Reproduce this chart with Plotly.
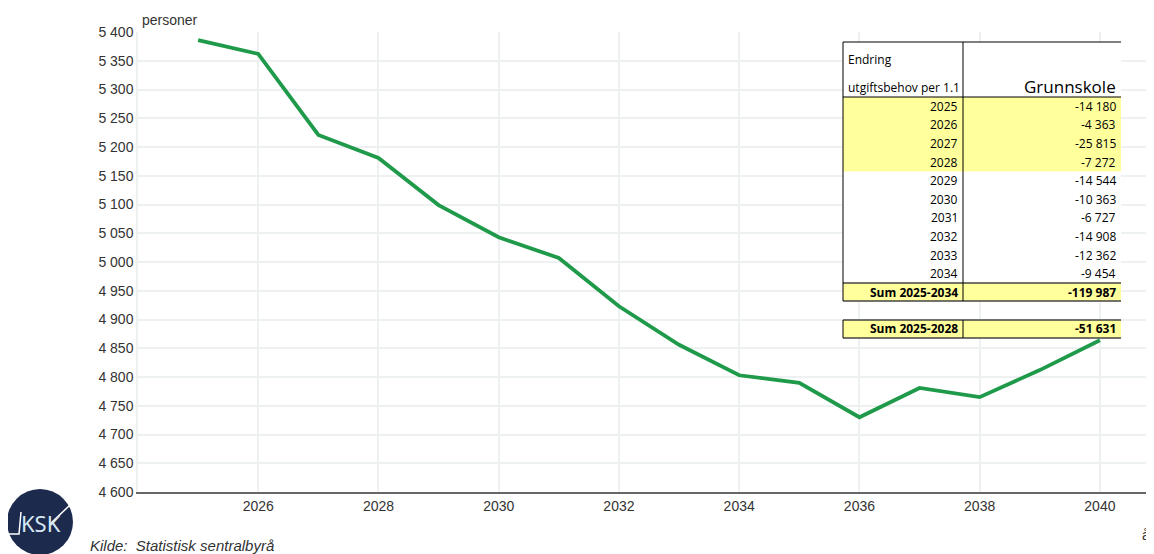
import plotly.graph_objects as go

# ---- Data -------------------------------------------------------------------

years = list(range(2025, 2041))
personer = [5386, 5362, 5221, 5181, 5099, 5043, 5007, 4923, 4856, 4803,
            4790, 4730, 4781, 4765, 4812, 4864]

x_ticks = [2026, 2028, 2030, 2032, 2034, 2036, 2038, 2040]

table_years = list(range(2025, 2035))
table_values = [-14180, -4363, -25815, -7272, -14544, -10363, -6727,
                -14908, -12362, -9454]
highlight_years = [2025, 2026, 2027, 2028]
sum_labels = ["Sum 2025-2034", "Sum 2025-2028"]
sum_values = [-119987, -51631]

# page body has an 8px margin, so the figure is drawn 8px smaller/shifted
OFF = 8
W, H = 1154 - OFF, 554 - OFF
L, R, T, B = 138, 1154, 32, 492   # plot area in screen pixels

YELLOW = "#ffff9c"
GREEN = "#1f9a4a"
GRID = "#edf1f1"
TXT = "#333333"
FONT = "Liberation Sans"
TFONT = "Open Sans"


def px(x):
    return (x - L) / (R - L)


def py(y):
    return (B - y) / (B - T)


def fmt(v):
    return f"{v:,}".replace(",", " ")


fig = go.Figure()
fig.add_trace(go.Scatter(
    x=years, y=personer, mode="lines",
    line=dict(color=GREEN, width=3.8),
    showlegend=False, hoverinfo="skip",
))

shapes = []
annots = []


def hline(y, x0, x1, color="#000", w=1):
    shapes.append(dict(type="line", xref="paper", yref="paper",
                       x0=px(x0), x1=px(x1), y0=py(y), y1=py(y),
                       line=dict(color=color, width=w)))


def vline(x, y0, y1, color="#000", w=1):
    shapes.append(dict(type="line", xref="paper", yref="paper",
                       x0=px(x), x1=px(x), y0=py(y0), y1=py(y1),
                       line=dict(color=color, width=w)))


def rect(x0, y0, x1, y1, fill):
    shapes.append(dict(type="rect", xref="paper", yref="paper",
                       x0=px(x0), x1=px(x1), y0=py(y0), y1=py(y1),
                       fillcolor=fill, line=dict(width=0), layer="above"))


def text(s, x, y, size=12, anchor="right", bold=False, italic=False,
         family=TFONT, color="#000"):
    if bold:
        s = f"<b>{s}</b>"
    if italic:
        s = f"<i>{s}</i>"
    annots.append(dict(text=s, xref="paper", yref="paper",
                       x=px(x), y=py(y), xanchor=anchor, yanchor="middle",
                       showarrow=False,
                       font=dict(size=size, family=family, color=color)))


# ---- Table overlay ------------------------------------------------------------
TL, TM, TR = 843, 963, 1121
HEAD_TOP, HEAD_BOT = 42, 97
ROW_H = 18.6

# white background for the table
rect(TL, HEAD_TOP, TR, HEAD_BOT + ROW_H * len(table_years) + ROW_H, "white")
rect(TL, 320, TR, 338, "white")

n_hl = len(highlight_years)
rect(TL, HEAD_BOT, TR, HEAD_BOT + ROW_H * n_hl, YELLOW)

for i, (yr, v) in enumerate(zip(table_years, table_values)):
    yc = HEAD_BOT + ROW_H * (i + 0.5)
    text(str(yr), TM - 3, yc)
    text(fmt(v), TR - 3, yc)

sum_tops = [HEAD_BOT + ROW_H * len(table_years), 320]
for top, lab, v in zip(sum_tops, sum_labels, sum_values):
    rect(TL, top, TR, top + 18, YELLOW)
    text(lab, TM - 3, top + 9, bold=True)
    text(fmt(v), TR - 3, top + 9, bold=True)
    hline(top, TL, TR, "#444", 1.5)
    hline(top + 18, TL, TR, "#444", 1.5)
    vline(TL, top, top + 18)
    vline(TM, top, top + 18)

hline(HEAD_TOP, TL, TR)
hline(HEAD_BOT, TL, TR)
vline(TL, HEAD_TOP, sum_tops[0])
vline(TM, HEAD_TOP, sum_tops[0])

text("Endring", TL + 3, 60, anchor="left")
text("utgiftsbehov per 1.1", TL + 3, 88, anchor="left")
text("Grunnskole", TR - 3, 86, size=17)

# ---- Other texts / logo ---------------------------------------------------------
annots.append(dict(text="personer", xref="paper", yref="paper",
                   x=px(140), y=py(20), xanchor="left", yanchor="middle",
                   showarrow=False, font=dict(size=14, family=FONT, color=TXT)))
annots.append(dict(text="å", xref="paper", yref="paper",
                   x=px(1152), y=py(535), xanchor="right", yanchor="middle",
                   showarrow=False, font=dict(size=14, family=FONT, color=TXT)))
annots.append(dict(text="<i>Kilde:  Statistisk sentralbyrå</i>", xref="paper",
                   yref="paper", x=px(88), y=py(545), xanchor="left",
                   yanchor="middle", showarrow=False,
                   font=dict(size=15, family=FONT, color=TXT)))

shapes.append(dict(type="circle", xref="paper", yref="paper",
                   x0=px(7), x1=px(73), y0=py(489), y1=py(555),
                   fillcolor="#1c2a4d", line=dict(width=0)))
shapes.append(dict(type="path", xref="paper", yref="paper",
                   path=f"M {px(9)} {py(534)} L {px(19)} {py(534)} "
                        f"L {px(21)} {py(512)}",
                   line=dict(color="white", width=1.5)))
shapes.append(dict(type="path", xref="paper", yref="paper",
                   path=f"M {px(50)} {py(524)} L {px(70)} {py(505)}",
                   line=dict(color="white", width=1.5)))
annots.append(dict(text="KSK", xref="paper", yref="paper",
                   x=px(41), y=py(523), xanchor="center", yanchor="middle",
                   showarrow=False,
                   font=dict(size=22, family="Noto Sans", color="#d6e8f5")))

fig.update_layout(
    width=W, height=H,
    margin=dict(l=L - OFF, r=(W + OFF) - R, t=T - OFF, b=(H + OFF) - B),
    paper_bgcolor="white", plot_bgcolor="white",
    separators=", ",
    shapes=shapes, annotations=annots,
    font=dict(family=FONT, size=14, color=TXT),
)
fig.update_xaxes(
    range=[2024, 2040.9], tickvals=x_ticks,
    showgrid=True, gridcolor=GRID, gridwidth=1.5,
    showline=True, linecolor="#666", linewidth=2,
    ticks="", zeroline=False, tickfont=dict(size=14, color=TXT),
)
fig.update_yaxes(
    range=[4600, 5400], dtick=50, tickformat=",d",
    showgrid=True, gridcolor=GRID, gridwidth=1.5,
    showline=True, linecolor=GRID, linewidth=1.5,
    ticks="", zeroline=False, tickfont=dict(size=14, color=TXT),
)

fig.write_html("out.html")
